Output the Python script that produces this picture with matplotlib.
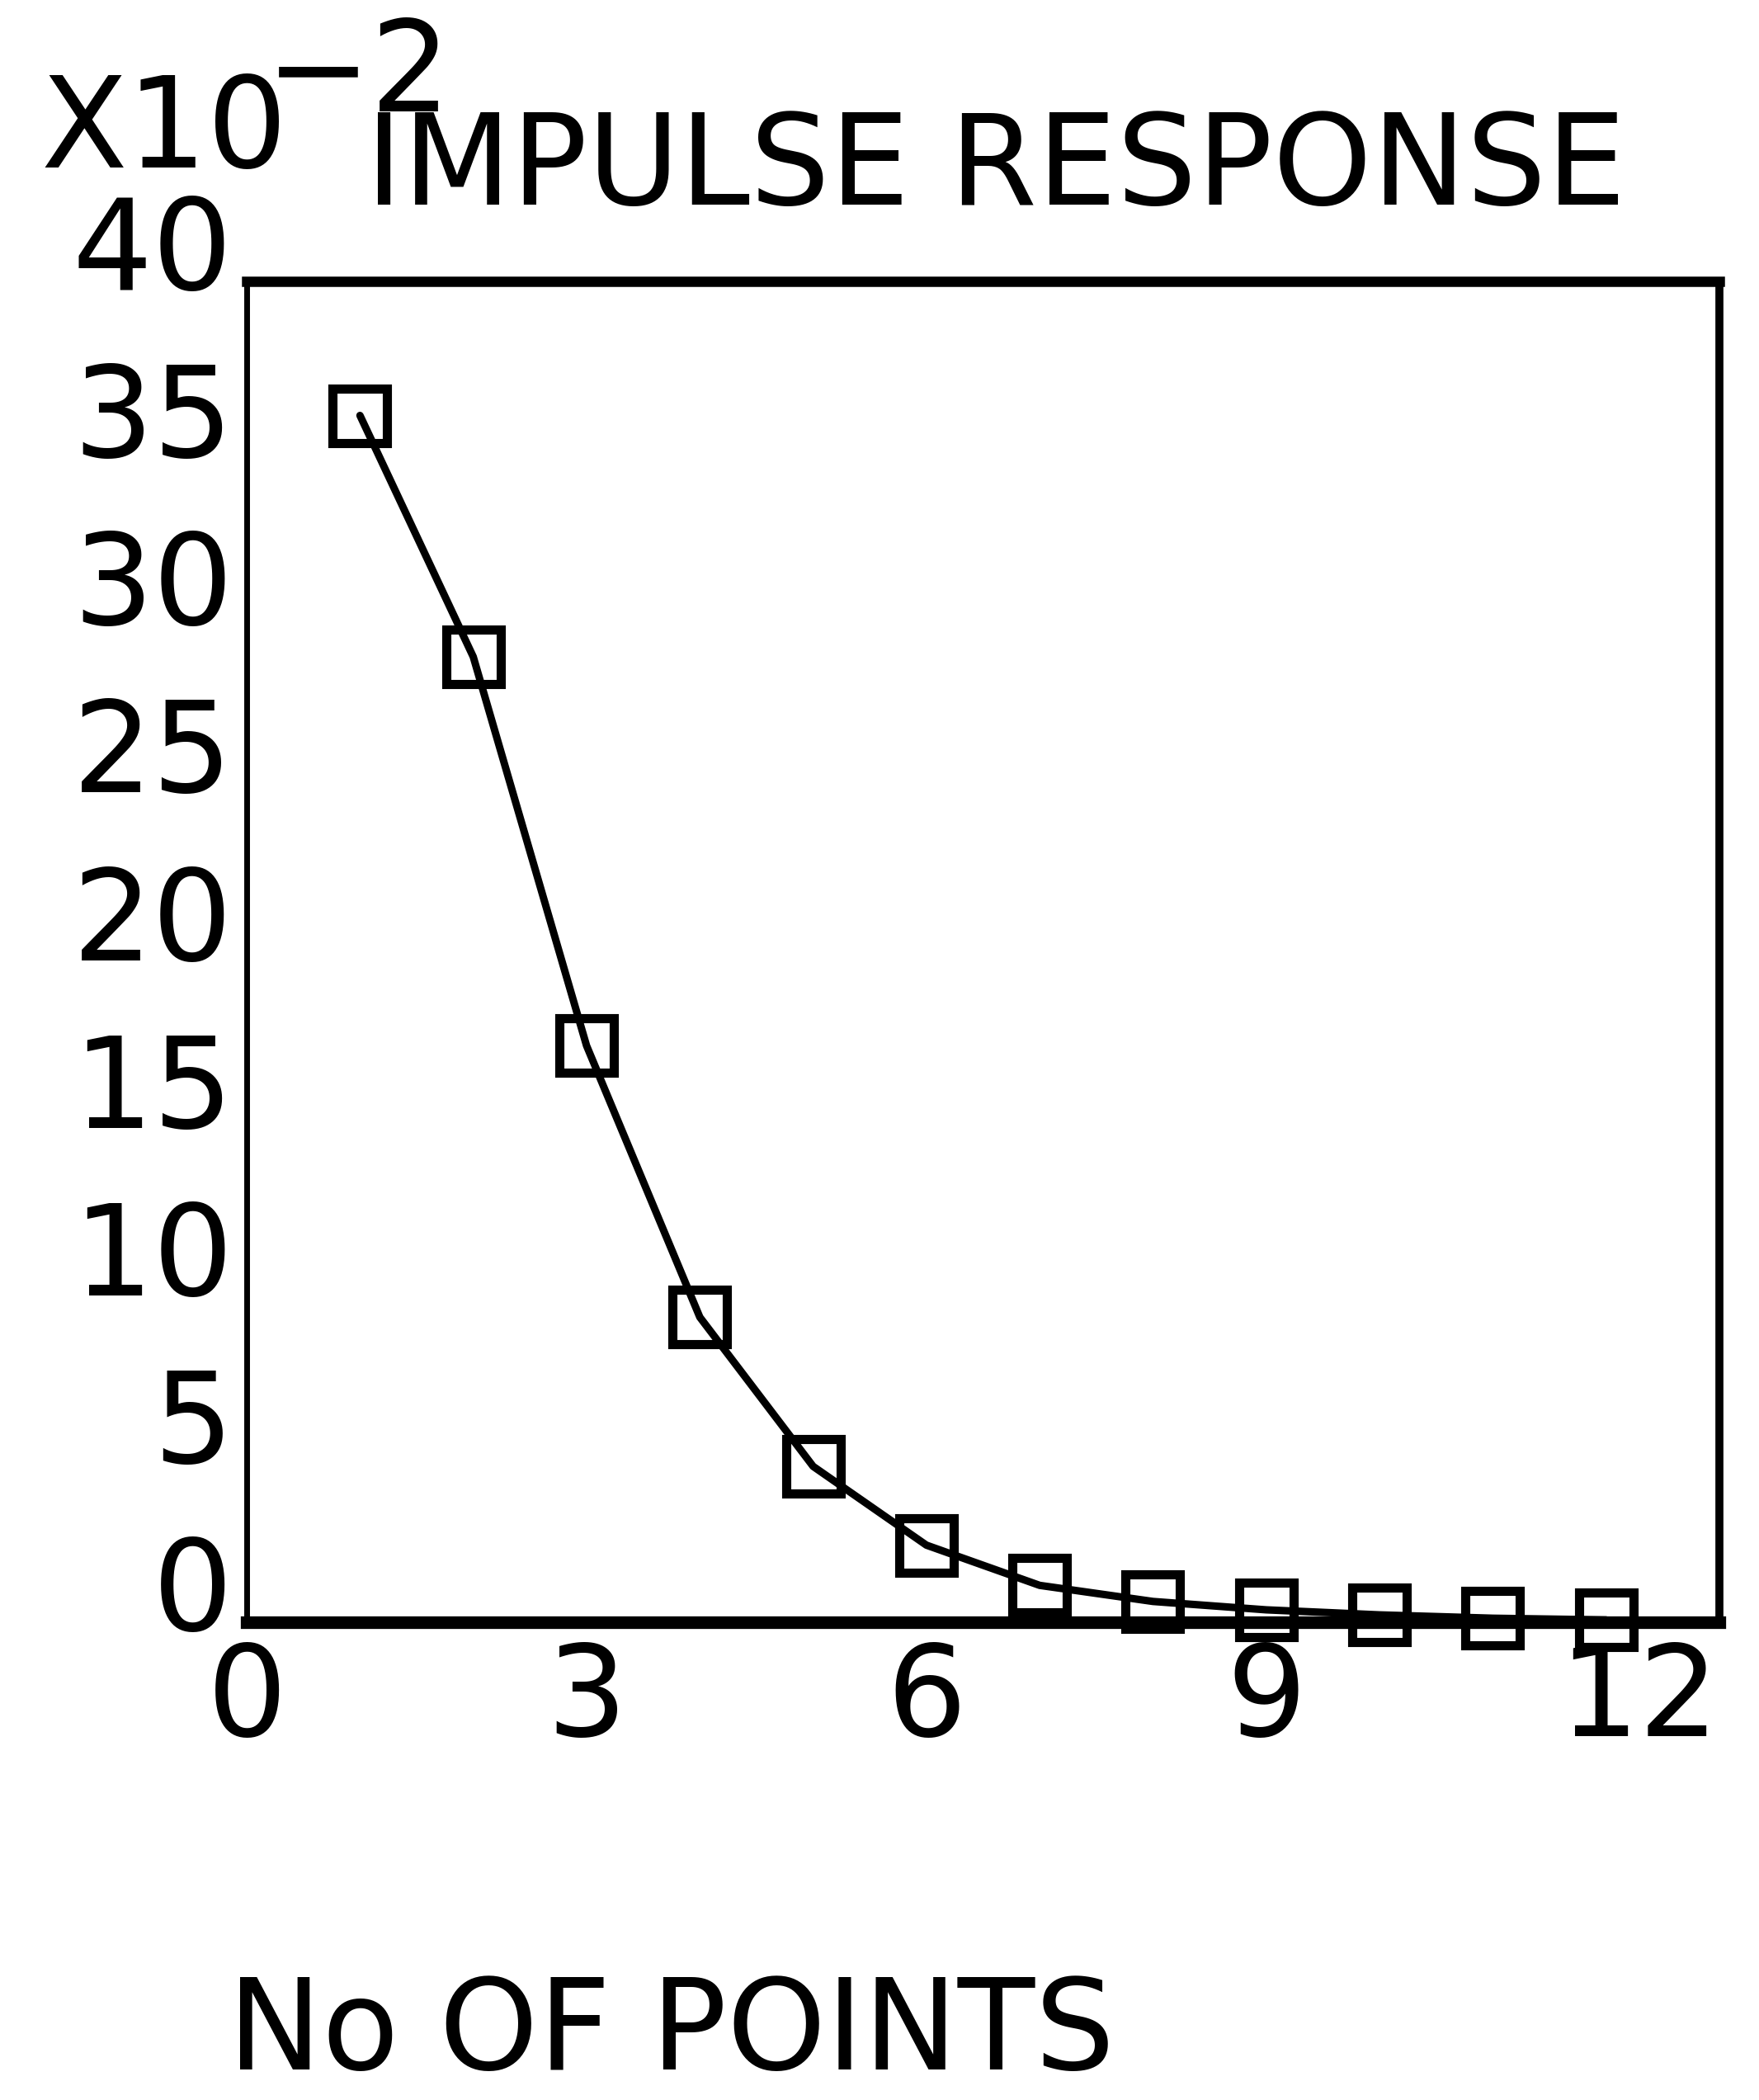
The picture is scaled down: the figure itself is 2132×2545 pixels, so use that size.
import matplotlib
matplotlib.use("Agg")
import matplotlib.pyplot as plt
from matplotlib.transforms import ScaledTranslation

# ---- data ----
n_points = [1, 2, 3, 4, 5, 6, 7, 8, 9, 10, 11, 12]
response = [36.0, 28.8, 17.2, 9.1, 4.65, 2.3, 1.1, 0.62, 0.37, 0.22, 0.12, 0.07]  # x10^-2
x_ticks = [0, 3, 6, 9, 12]
y_ticks = [0, 5, 10, 15, 20, 25, 30, 35, 40]
title = "IMPULSE RESPONSE"
x_label = "No OF POINTS"
scale_label = "X10"
scale_exp = "\u22122"

plt.rcParams['font.family'] = ['DejaVu Sans']
FS = 110

W, H = 2132, 2545
fig = plt.figure(figsize=(W / 100, H / 100), dpi=100)
ax = fig.add_axes([299 / W, (H - 1966) / H, 1785 / W, 1625 / H])

ax.plot(n_points, response, color='black', lw=6.5, marker='s', ms=47, mew=8,
        mfc='none', mec='black', solid_joinstyle='round', solid_capstyle='round',
        clip_on=False, zorder=3)

ax.set_xlim(0, 13)
ax.set_ylim(0, 40)
ax.set_xticks(x_ticks)
ax.set_yticks(y_ticks)
ax.tick_params(axis='both', length=0, labelsize=FS)
ax.tick_params(axis='x', pad=15)
ax.tick_params(axis='y', pad=12)

for side, lw in (('left', 5), ('right', 7), ('top', 9), ('bottom', 11)):
    ax.spines[side].set_linewidth(lw)
    ax.spines[side].set_color('black')

# y tick labels sit with their baseline just below the tick position
for lbl in ax.get_yticklabels():
    lbl.set_va('baseline')
    lbl.set_transform(lbl.get_transform() + ScaledTranslation(0, -0.10, fig.dpi_scale_trans))

# "12" label: first digit centred on the tick
xl = ax.get_xticklabels()
xl[-1].set_transform(xl[-1].get_transform() + ScaledTranslation(0.40, 0, fig.dpi_scale_trans))

ax.set_title(title, fontsize=FS, x=(1207 - 299) / 1785, y=(1966 - 248) / 1625,
             va='baseline', ha='center', pad=0)

ax.set_xlabel(x_label, fontsize=FS, ha='left', va='baseline')
ax.xaxis.set_label_coords((276 - 299) / 1785, (1966 - 2508) / 1625)

fig.text(49 / W, 1 - 203 / H, scale_label, fontsize=FS, ha='left', va='baseline')
fig.text(322 / W, 1 - 135 / H, scale_exp, fontsize=FS, ha='left', va='baseline')

fig.savefig("out.png", dpi=100, facecolor='white')
